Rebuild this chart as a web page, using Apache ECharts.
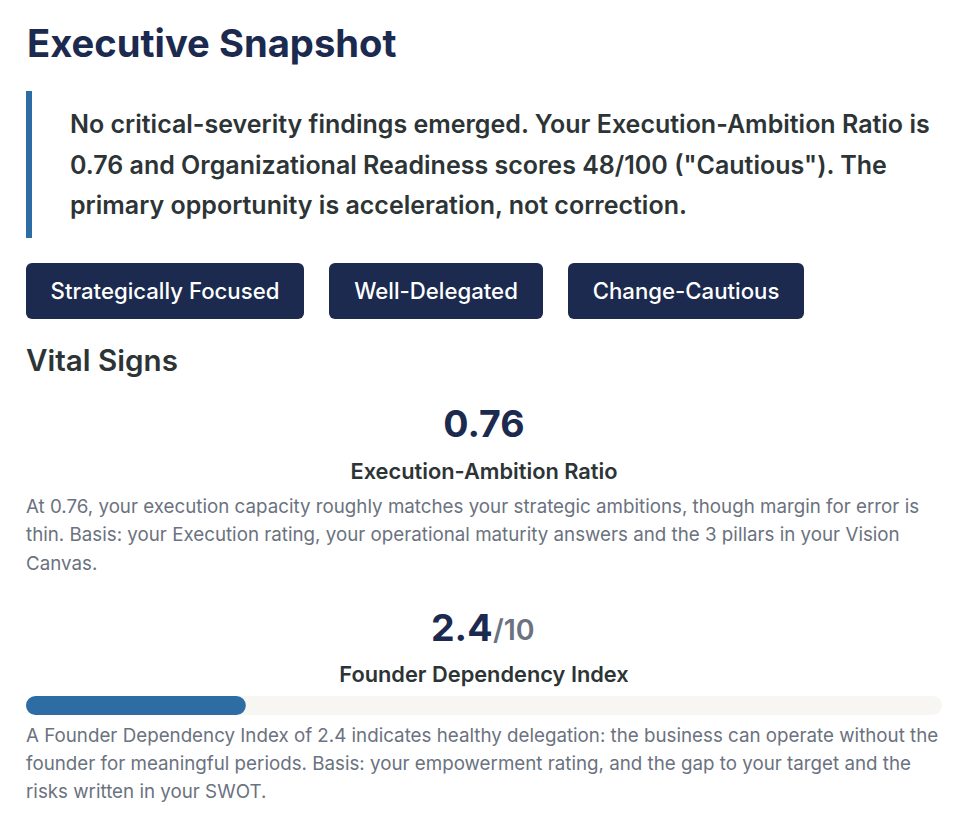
<!DOCTYPE html>
<html>
<head>
<meta charset="utf-8">
<title>Executive Snapshot</title>
<script src="https://cdn.jsdelivr.net/npm/echarts@6/dist/echarts.min.js"></script>
<style>
  html, body { margin: 0; padding: 0; background: #fff; }
  #chart { width: 964px; height: 822px; }
</style>
</head>
<body>
<div id="chart"></div>
<script>
const TITLE = 'Executive Snapshot';
const SUMMARY_LINES = [
  'No critical-severity findings emerged. Your Execution-Ambition Ratio is',
  '0.76 and Organizational Readiness scores 48/100 ("Cautious"). The',
  'primary opportunity is acceleration, not correction.',
];
const BADGES = ['Strategically Focused', 'Well-Delegated', 'Change-Cautious'];
const SECTION = 'Vital Signs';
const RATIO_VALUE = '0.76';
const RATIO_NAME = 'Execution-Ambition Ratio';
const RATIO_LINES = [
  'At 0.76, your execution capacity roughly matches your strategic ambitions, though margin for error is',
  'thin. Basis: your Execution rating, your operational maturity answers and the 3 pillars in your Vision',
  'Canvas.',
];
const FDI_VALUE = 2.4;
const FDI_MAX = 10;
const FDI_NAME = 'Founder Dependency Index';
const FDI_LINES = [
  'A Founder Dependency Index of 2.4 indicates healthy delegation: the business can operate without the',
  'founder for meaningful periods. Basis: your empowerment rating, and the gap to your target and the',
  'risks written in your SWOT.',
];

const NAVY = '#1b2a4e';
const INK = '#2d3436';
const GREY = '#6b7280';
const BLUE = '#2e6da4';
const BODY = 'Inter';

function label(text, x, y, size, weight, color, align) {
  return {
    type: 'text',
    x: x,
    y: y,
    style: {
      text: text,
      fill: color,
      font: weight + ' ' + size + 'px ' + BODY,
      textAlign: align || 'left',
      textVerticalAlign: 'middle',
    },
  };
}

const badgeBoxes = [[26, 278], [329, 214], [568, 236]];
const elements = [];

elements.push(label(TITLE, 27, 43, 38.2, 700, NAVY));
elements.push({ type: 'rect', shape: { x: 26, y: 91, width: 6, height: 147 }, style: { fill: BLUE } });
SUMMARY_LINES.forEach((t, i) => elements.push(label(t, 70, 124 + i * 40.6, 25, 600, INK)));

BADGES.forEach((t, i) => {
  const [x, w] = badgeBoxes[i];
  elements.push({ type: 'rect', shape: { x: x, y: 263, width: w, height: 56, r: 6 }, style: { fill: NAVY } });
  elements.push(label(t, x + w / 2, 290.5, 22.2, 500, '#ffffff', 'center'));
});

elements.push(label(SECTION, 26, 360, 29.6, 600, INK));

elements.push(label(RATIO_VALUE, 484, 423, 37.5, 700, NAVY, 'center'));
elements.push(label(RATIO_NAME, 484, 470.5, 21.8, 600, INK, 'center'));
RATIO_LINES.forEach((t, i) => elements.push(label(t, 26, 506 + i * 28.5, 18.75, 400, GREY)));

elements.push(label(String(FDI_VALUE), 492.5, 627, 37.5, 700, NAVY, 'right'));
elements.push(label('/' + FDI_MAX, 493, 629, 28.5, 600, GREY));
elements.push(label(FDI_NAME, 484, 673.5, 21.8, 600, INK, 'center'));
FDI_LINES.forEach((t, i) => elements.push(label(t, 26, 735 + i * 28.2, 18.75, 400, GREY)));

const chart = echarts.init(document.getElementById('chart'), null, { renderer: 'svg' });
chart.setOption({
  animation: false,
  grid: { left: 26, top: 696, width: 916, height: 19 },
  xAxis: { type: 'value', min: 0, max: FDI_MAX, show: false },
  yAxis: { type: 'category', data: [FDI_NAME], show: false },
  series: [
    {
      type: 'bar',
      data: [FDI_VALUE],
      barWidth: 19,
      showBackground: true,
      backgroundStyle: { color: '#f7f6f2', borderRadius: 10 },
      itemStyle: { color: BLUE, borderRadius: 10 },
    },
  ],
  graphic: { elements: elements },
});
</script>
</body>
</html>
